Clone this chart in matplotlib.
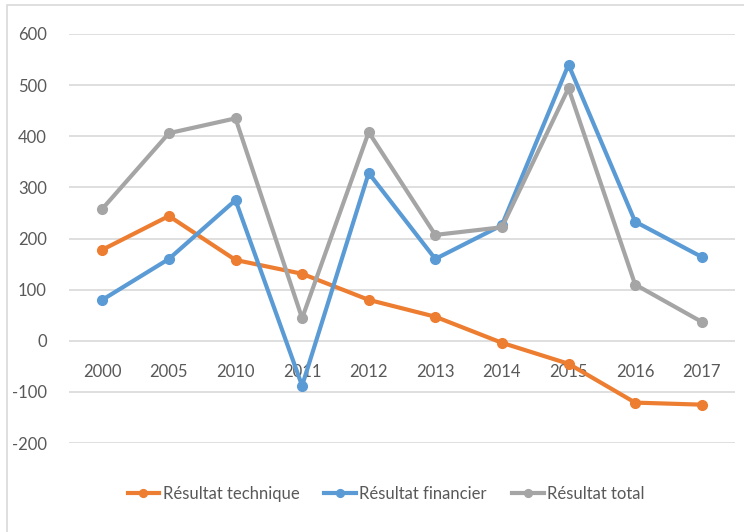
import matplotlib.pyplot as plt
from matplotlib.patches import Rectangle

# Data
years = ['2000', '2005', '2010', '2011', '2012', '2013', '2014', '2015', '2016', '2017']
technique = [178, 244, 158, 131, 80, 47, -4, -45, -121, -125]
financier = [80, 160, 275, -88, 328, 160, 226, 540, 233, 164]
total = [258, 406, 435, 44, 408, 207, 222, 494, 110, 37]

plt.rcParams['font.family'] = ['Lato', 'DejaVu Sans']
plt.rcParams['axes.unicode_minus'] = False

fig = plt.figure(figsize=(7.44, 5.32), dpi=100)
ax = fig.add_axes([69 / 744, 1 - 443 / 532, (735 - 69) / 744, (443 - 34) / 532])

# chart border
fig.patches.append(Rectangle((7 / 744, -0.1), 1.2, 1 - 5 / 532 + 0.1,
                             transform=fig.transFigure, fill=False,
                             edgecolor='#D9D9D9', linewidth=1.2))

x = range(len(years))
ax.plot(x, technique, color='#ED7D31', lw=3, marker='o', ms=7, label='Résultat technique')
ax.plot(x, financier, color='#5B9BD5', lw=3, marker='o', ms=7, label='Résultat financier')
ax.plot(x, total, color='#A5A5A5', lw=3, marker='o', ms=7, label='Résultat total')

ax.set_xlim(-0.5, 9.5)
ax.set_ylim(-200, 600)
ax.set_yticks(range(-200, 601, 100))
ax.set_xticks(list(x))
ax.set_xticklabels(years)
ax.grid(axis='y', color='#D9D9D9', lw=1.2)
ax.set_axisbelow(True)

for s in ['top', 'right', 'left']:
    ax.spines[s].set_visible(False)
ax.spines['bottom'].set_position(('data', 0))
ax.spines['bottom'].set_visible(False)
ax.tick_params(axis='both', length=0, labelsize=12, labelcolor='#595959')
ax.tick_params(axis='x', pad=17)
ax.tick_params(axis='y', pad=16)

ax.legend(loc='center', bbox_to_anchor=(0.476, -0.125), ncol=3, frameon=False,
          fontsize=12, labelcolor='#595959', handlelength=1.9, handletextpad=0.2,
          columnspacing=1.5, markerscale=0.8)

fig.savefig('out.png', dpi=100)
